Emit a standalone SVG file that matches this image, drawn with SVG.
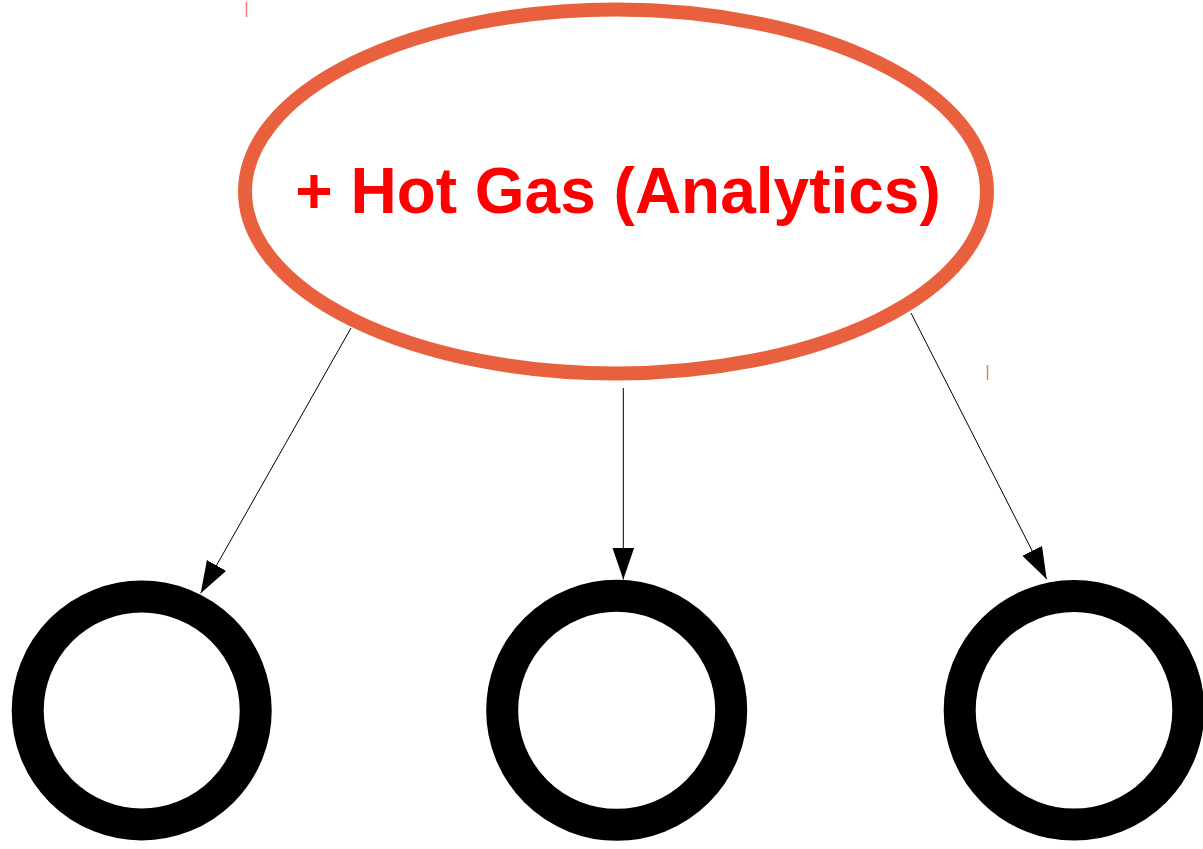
<svg xmlns="http://www.w3.org/2000/svg" width="1203" height="849" viewBox="0 0 1203 849">
  <style>
    .ring { fill: none; stroke: #000000; stroke-width: 32; }
    .edge { fill: none; stroke: #000000; stroke-width: 1; marker-end: url(#arrow); }
    .tick { stroke: #E9603E; stroke-width: 1.5; opacity: 0.8; }
    .label { font-family: "Liberation Sans", Arial, sans-serif; font-weight: bold; font-size: 64px; fill: #FF0000; text-anchor: middle; }
  </style>
  <defs>
    <marker id="arrow" markerUnits="userSpaceOnUse" markerWidth="34" markerHeight="24" refX="32" refY="11" orient="auto" viewBox="0 0 34 24">
      <path d="M0,0 L32,11 L0,22 z" fill="#000000"/>
    </marker>
  </defs>
  <rect width="1203" height="849" fill="#ffffff"/>
  <g id="hot-gas">
    <ellipse cx="616" cy="191.5" rx="371" ry="182" fill="#ffffff" stroke="#E9603E" stroke-width="14"/>
    <text class="label" x="618" y="213">+ Hot Gas (Analytics)</text>
    <line class="tick" x1="246.5" y1="2" x2="246.5" y2="17"/>
    <line class="tick" x1="987.5" y1="365" x2="987.5" y2="380"/>
  </g>
  <g id="connectors">
    <line class="edge" x1="351" y1="328" x2="200.7" y2="593.3"/>
    <line class="edge" x1="623.3" y1="388" x2="623.3" y2="579.5"/>
    <line class="edge" x1="911" y1="313" x2="1046.7" y2="579.3"/>
  </g>
  <g id="node-left">
    <circle class="ring" cx="141.7" cy="710.5" r="114"/>
  </g>
  <g id="node-middle">
    <circle class="ring" cx="616.7" cy="710.3" r="114.5"/>
  </g>
  <g id="node-right">
    <circle class="ring" cx="1074" cy="710.3" r="114.3"/>
  </g>
</svg>
